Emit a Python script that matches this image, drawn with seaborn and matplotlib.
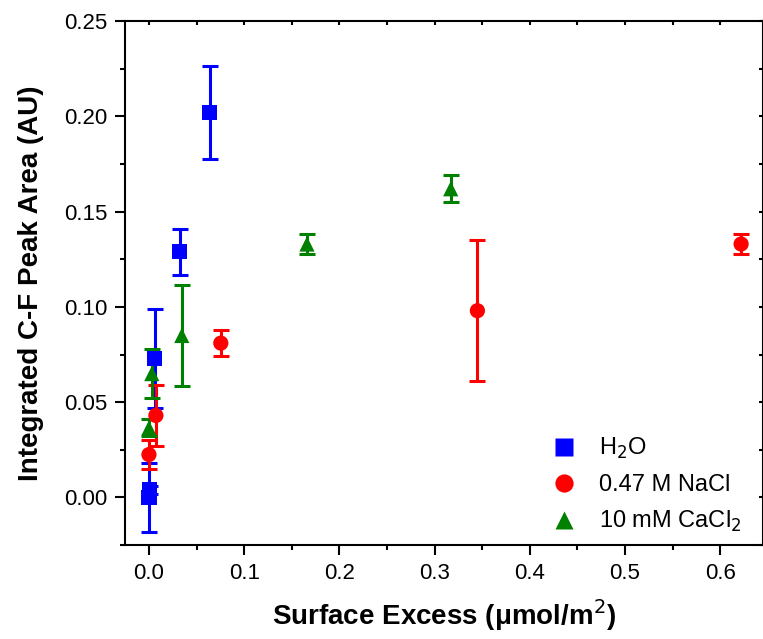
import matplotlib.pyplot as plt
import numpy as np
import pandas as pd
import seaborn as sns
from matplotlib.ticker import MultipleLocator

# data
h2o_x = [0.000, 0.001, 0.006, 0.0325, 0.064]
h2o_y = [0.000, 0.004, 0.073, 0.129, 0.202]
h2o_err = [0.018, 0.002, 0.026, 0.012, 0.0245]

nacl_x = [0.000, 0.0073, 0.0755, 0.345, 0.622]
nacl_y = [0.0225, 0.043, 0.081, 0.098, 0.133]
nacl_err = [0.0077, 0.016, 0.007, 0.037, 0.005]

cacl_x = [0.000, 0.003, 0.0345, 0.166, 0.317]
cacl_y = [0.0365, 0.065, 0.085, 0.133, 0.162]
cacl_err = [0.0045, 0.013, 0.0265, 0.0055, 0.007]

labels = ["H$_2$O", "0.47 M NaCl", "10 mM CaCl$_2$"]
colors = ["#0000ff", "#ff0000", "#008000"]
markers = ["s", "o", "^"]

frames = []
for lab, xs, ys, es in zip(labels, [h2o_x, nacl_x, cacl_x], [h2o_y, nacl_y, cacl_y],
                           [h2o_err, nacl_err, cacl_err]):
    frames.append(pd.DataFrame({"x": xs, "y": ys, "err": es, "series": lab}))
df = pd.concat(frames, ignore_index=True)

sns.set_style("ticks")
plt.rcParams["font.family"] = ["Liberation Sans", "DejaVu Sans"]
for key in ["text.color", "axes.labelcolor", "xtick.color", "ytick.color"]:
    plt.rcParams[key] = "black"

fig, ax = plt.subplots(figsize=(7.63, 6.39), dpi=100)
fig.subplots_adjust(left=0.164, right=1.0, top=0.967, bottom=0.147)

for lab, col in zip(labels, colors):
    sub = df[df["series"] == lab]
    ax.errorbar(sub["x"], sub["y"], yerr=sub["err"], fmt="none", ecolor=col,
                elinewidth=2.2, capsize=5.5, capthick=2.2, zorder=2)

sns.scatterplot(data=df, x="x", y="y", hue="series", style="series",
                palette=dict(zip(labels, colors)), markers=dict(zip(labels, markers)),
                s=120, edgecolor="none", ax=ax, zorder=3)

ax.set_xlim(-0.025, 0.645)
ax.set_ylim(-0.025, 0.25)
ax.xaxis.set_major_locator(MultipleLocator(0.1))
ax.xaxis.set_minor_locator(MultipleLocator(0.05))
ax.yaxis.set_major_locator(MultipleLocator(0.05))
ax.yaxis.set_minor_locator(MultipleLocator(0.025))
ax.xaxis.set_major_formatter(plt.FuncFormatter(lambda v, p: f"{v:.1f}"))
ax.yaxis.set_major_formatter(plt.FuncFormatter(lambda v, p: f"{v:.2f}"))

for s in ax.spines.values():
    s.set_linewidth(1.5)
    s.set_color("black")
ax.tick_params(which="major", direction="out", length=7, width=1.5, labelsize=16,
               pad=6, colors="black")
ax.tick_params(which="minor", direction="out", length=3.5, width=1.5, colors="black")
ax.tick_params(which="both", top=True, right=True, bottom=True, left=True)
# top/right ticks point inward, short
for t in ax.xaxis.get_ticklines(minor=False)[1::2] + ax.xaxis.get_ticklines(minor=True)[1::2]:
    t.set_marker(3)
    t.set_markersize(3)
for t in ax.yaxis.get_ticklines(minor=False)[1::2] + ax.yaxis.get_ticklines(minor=True)[1::2]:
    t.set_marker(0)
    t.set_markersize(3)

ax.set_xlabel("Surface Excess (μmol/m$^2$)", fontsize=20, fontweight="bold", labelpad=9)
ax.set_ylabel("Integrated C-F Peak Area (AU)", fontsize=20, fontweight="bold", labelpad=14)

handles, lbls = ax.get_legend_handles_labels()
ax.legend(handles, lbls, loc="lower right", bbox_to_anchor=(1.0, -0.02), frameon=False,
          fontsize=17, handletextpad=0.5, labelspacing=0.55, markerscale=1.2)

plt.savefig("out.png", dpi=100)
